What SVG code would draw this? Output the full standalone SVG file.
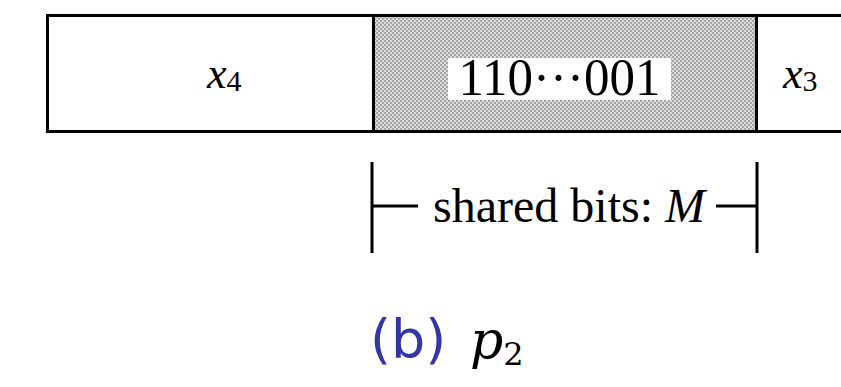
<svg xmlns="http://www.w3.org/2000/svg" width="841" height="387" viewBox="0 0 841 387">
<style>
.ln{stroke:#000;stroke-width:3}
.t{font-family:"Liberation Serif",serif;fill:#000}
</style>
<defs>
<pattern id="chk" width="4" height="4" patternUnits="userSpaceOnUse">
<rect width="4" height="4" fill="#dcdcdc"/>
<rect width="2" height="2" fill="#a4a4a4"/>
<rect x="2" y="2" width="2" height="2" fill="#a4a4a4"/>
</pattern>
</defs>
<g id="field-x4">
<rect x="47.5" y="15.5" width="326" height="116" fill="#fff" class="ln"/>
<text class="t" x="207" y="88" font-size="44"><tspan font-style="italic">x</tspan><tspan font-size="30" dy="3">4</tspan></text>
</g>
<g id="field-shared">
<rect x="373.5" y="15.5" width="383" height="116" fill="url(#chk)" class="ln"/>
<rect x="448" y="58" width="223" height="42" fill="#fff"/>
<text class="t" x="559.5" y="95" font-size="52" text-anchor="middle" textLength="202" lengthAdjust="spacingAndGlyphs">110···001</text>
</g>
<g id="field-x3">
<path class="ln" fill="none" d="M756.5,15.5H843M756.5,131.5H843"/>
<text class="t" x="783" y="88" font-size="44"><tspan font-style="italic">x</tspan><tspan font-size="30" dy="3">3</tspan></text>
</g>
<g id="connectors">
<path class="ln" fill="none" d="M372,162V253M372,206H418M757,162V253M716,206H757"/>
</g>
<g id="label-shared">
<text class="t" x="569" y="222" font-size="48" text-anchor="middle">shared bits: <tspan font-style="italic">M</tspan></text>
</g>
<g id="caption">
<text x="370" y="358" font-family="'DejaVu Sans',sans-serif" font-size="54" fill="#3535a8">(b)</text>
<text x="470" y="358" font-family="'DejaVu Serif',serif" font-style="italic" font-size="52" fill="#000">p<tspan font-style="normal" font-size="32" dy="7">2</tspan></text>
</g>
</svg>
